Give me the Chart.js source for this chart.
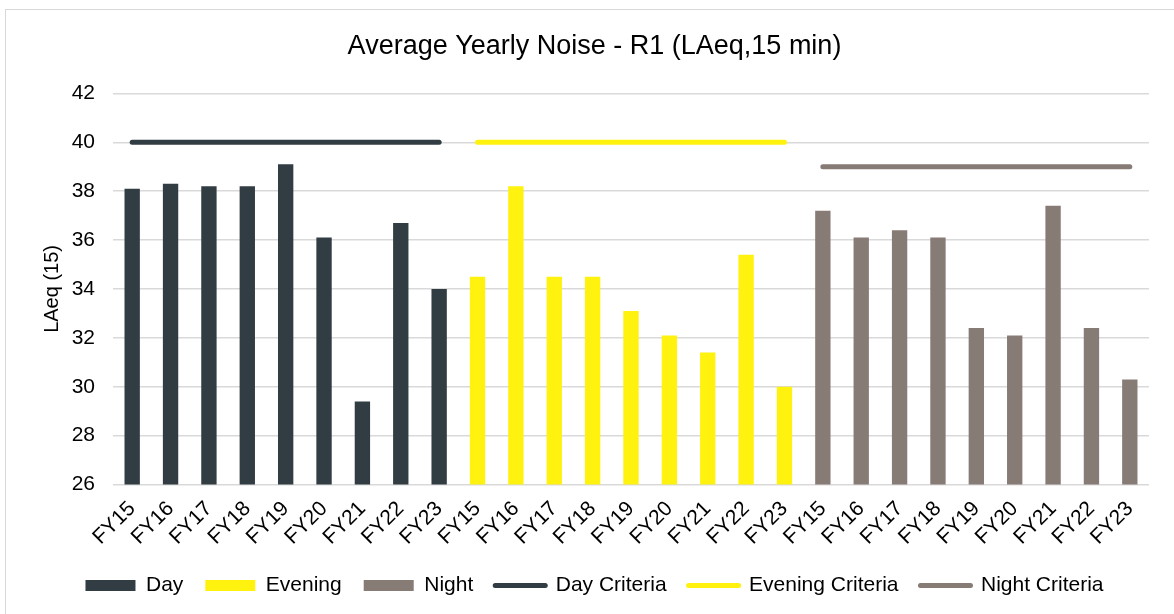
<!DOCTYPE html>
<html>
<head>
<meta charset="utf-8">
<title>Average Yearly Noise - R1</title>
<script src="https://cdn.jsdelivr.net/npm/chart.js@4"></script>
<style>
  html, body { margin: 0; padding: 0; background: #fff; }
  #wrap { position: relative; width: 1174px; height: 614px; overflow: hidden; }
  #frame { position: absolute; left: 5px; top: 9px; width: 1200px; height: 640px; border: 1px solid #d9d9d9; box-sizing: border-box; }
  canvas { position: absolute; left: 0; top: 0; }
</style>
</head>
<body>
<div id="wrap">
  <div id="frame"></div>
  <canvas id="noiseChart" width="1174" height="614"></canvas>
</div>
<script>
// financial years, repeated once per period (day / evening / night)
const years = ["FY15", "FY16", "FY17", "FY18", "FY19", "FY20", "FY21", "FY22", "FY23"];

// LAeq,15 min averages
const dayNoise = [38.1, 38.3, 38.2, 38.2, 39.1, 36.1, 29.4, 36.7, 34.0];
const eveningNoise = [34.5, 38.2, 34.5, 34.5, 33.1, 32.1, 31.4, 35.4, 30.0];
const nightNoise = [37.2, 36.1, 36.4, 36.1, 32.4, 32.1, 37.4, 32.4, 30.3];

// criteria levels
const dayCriteria = 40;
const eveningCriteria = 40;
const nightCriteria = 39;

const yTicks = [26, 28, 30, 32, 34, 36, 38, 40, 42];

const colDay = "#323c43";
const colEvening = "#fff20f";
const colNight = "#877b76";

const labels = [...years, ...years, ...years];
const n = years.length;

// put a group's values in its own third of the axis, null elsewhere
function block(values, slot) {
  const out = new Array(labels.length).fill(null);
  values.forEach((v, i) => { out[slot * n + i] = v; });
  return out;
}
function level(value, slot) {
  return block(years.map(() => value), slot);
}

const barStyle = {
  type: "bar",
  grouped: false,
  categoryPercentage: 1,
  barPercentage: 0.4,
  order: 2,
};
const lineStyle = {
  type: "line",
  borderWidth: 5,
  borderCapStyle: "round",
  pointRadius: 0,
  pointHoverRadius: 0,
  spanGaps: false,
  fill: false,
  order: 1,
};

const FONT = "'Liberation Sans', Arial, sans-serif";

var ctx = document.getElementById("noiseChart").getContext("2d");
var noiseChart = new Chart(ctx, {
  data: {
    labels: labels,
    datasets: [
      { ...barStyle, label: "Day", data: block(dayNoise, 0), backgroundColor: colDay },
      { ...barStyle, label: "Evening", data: block(eveningNoise, 1), backgroundColor: colEvening },
      { ...barStyle, label: "Night", data: block(nightNoise, 2), backgroundColor: colNight },
      { ...lineStyle, label: "Day Criteria", data: level(dayCriteria, 0), borderColor: colDay, backgroundColor: colDay },
      { ...lineStyle, label: "Evening Criteria", data: level(eveningCriteria, 1), borderColor: colEvening, backgroundColor: colEvening },
      { ...lineStyle, label: "Night Criteria", data: level(nightCriteria, 2), borderColor: colNight, backgroundColor: colNight },
    ],
  },
  options: {
    responsive: false,
    animation: false,
    layout: { padding: { left: 40, right: 25, top: 14, bottom: 8 } },
    scales: {
      x: {
        afterFit: (scale) => { scale.height = 68.5; },
        grid: { display: false, drawTicks: false },
        border: { display: false },
        ticks: {
          color: "#000",
          font: { family: FONT, size: 21 },
          minRotation: 45,
          maxRotation: 45,
          autoSkip: false,
          padding: 12,
        },
      },
      y: {
        min: 26,
        max: 42,
        afterBuildTicks: (scale) => { scale.ticks = yTicks.map((v) => ({ value: v })); },
        afterFit: (scale) => { scale.width = 73; },
        grid: { color: "#d9d9d9", lineWidth: 1.5, drawTicks: false },
        border: { display: false },
        ticks: { color: "#000", font: { family: FONT, size: 21 }, padding: 18 },
        title: {
          display: true,
          text: "LAeq (15)",
          color: "#000",
          font: { family: FONT, size: 20 },
          padding: 0,
        },
      },
    },
    plugins: {
      title: {
        display: true,
        text: "Average Yearly Noise - R1 (LAeq,15 min)",
        color: "#000",
        font: { family: FONT, size: 27, weight: "normal" },
        padding: { top: 16, bottom: 31 },
      },
      legend: {
        display: true,
        position: "bottom",
        labels: {
          color: "#000",
          font: { family: FONT, size: 21 },
          usePointStyle: true,
          pointStyleWidth: 50,
          boxHeight: 11,
          padding: 22,
          generateLabels: (chart) =>
            chart.data.datasets.map((ds, i) => {
              const isLine = ds.type === "line";
              return {
                text: ds.label,
                datasetIndex: i,
                fillStyle: isLine ? ds.borderColor : ds.backgroundColor,
                strokeStyle: isLine ? ds.borderColor : ds.backgroundColor,
                lineWidth: isLine ? 5 : 0,
                lineCap: "round",
                pointStyle: isLine ? "line" : "rect",
                hidden: false,
              };
            }),
        },
      },
      tooltip: { enabled: false },
    },
  },
});
</script>
</body>
</html>
